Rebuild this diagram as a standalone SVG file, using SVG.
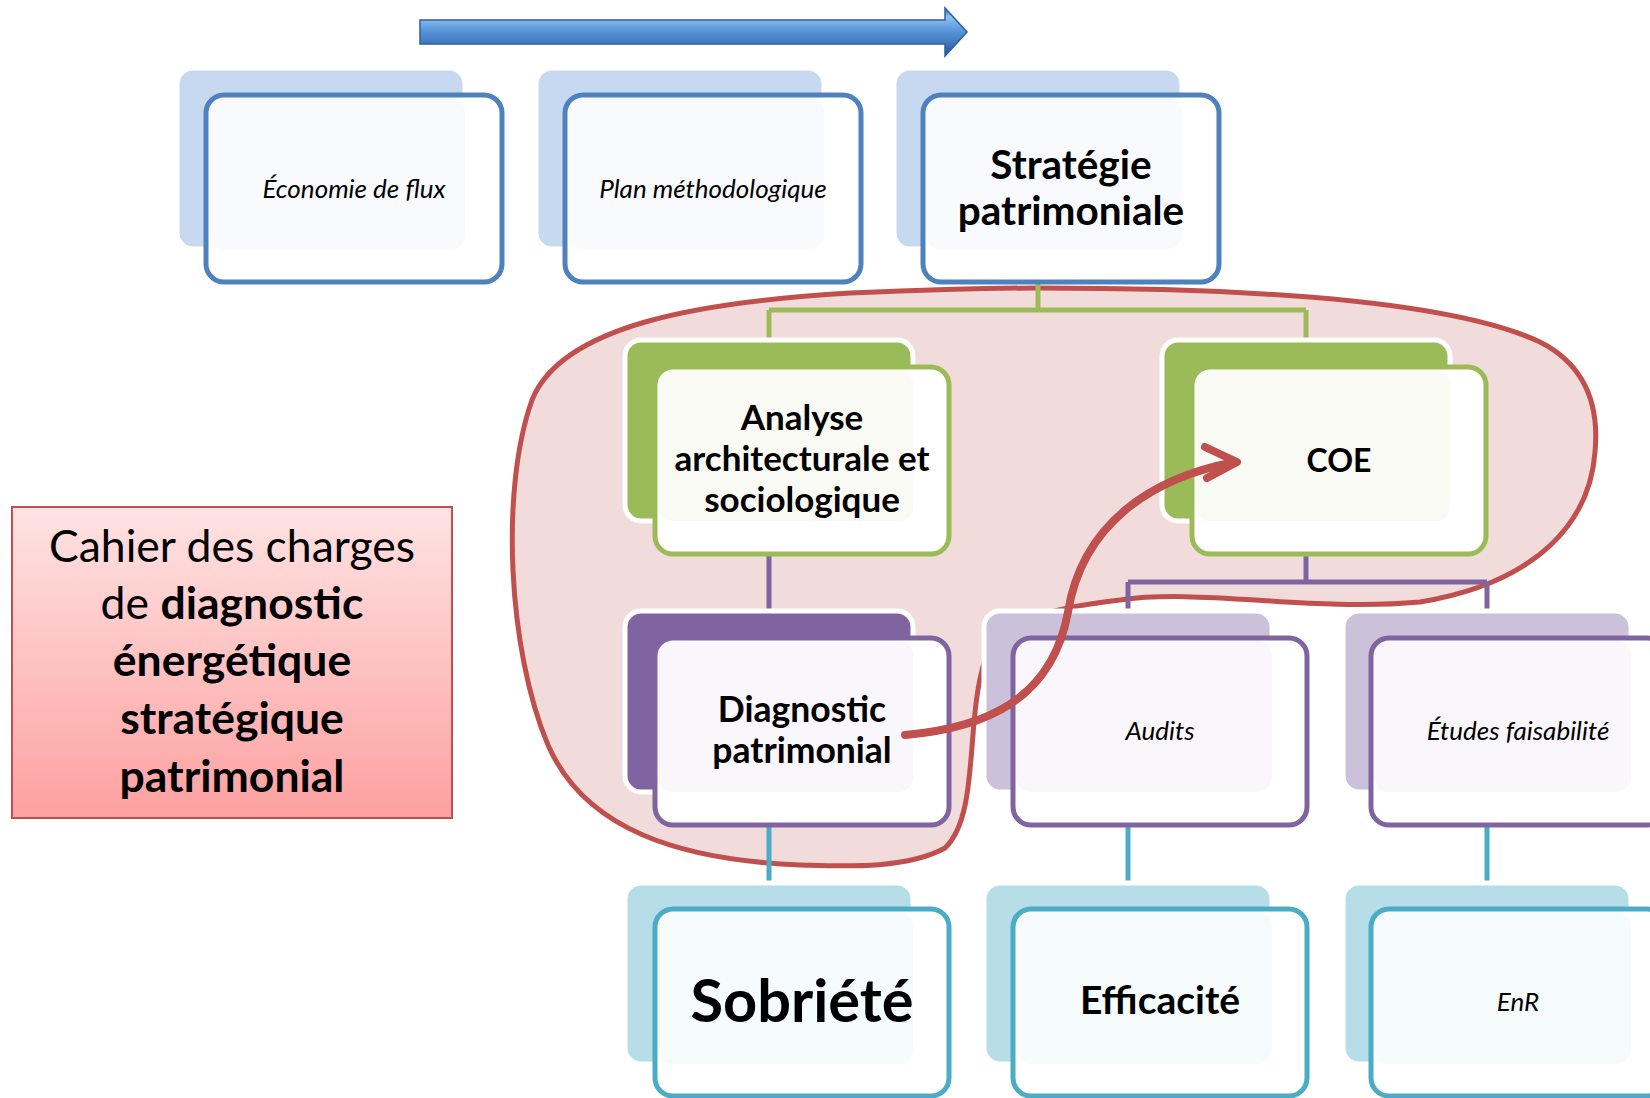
<svg xmlns="http://www.w3.org/2000/svg" width="1650" height="1098" viewBox="0 0 1650 1098">
<defs>
<linearGradient id="gArrow" x1="0" y1="0" x2="0" y2="1">
<stop offset="0" stop-color="#3569ab"/>
<stop offset="0.18" stop-color="#8ec3f2"/>
<stop offset="0.45" stop-color="#5b99dc"/>
<stop offset="0.8" stop-color="#3a70b6"/>
<stop offset="1" stop-color="#254f88"/>
</linearGradient>
<linearGradient id="gCahier" x1="0" y1="0" x2="0" y2="1">
<stop offset="0" stop-color="#ffe3e3"/>
<stop offset="1" stop-color="#fda0a0"/>
</linearGradient>
<style>
.bk{stroke:#ffffff;stroke-width:5}
.fr{fill:#ffffff;stroke-width:5}
.blue .bk{fill:#c6d9f1}.blue .fr{stroke:#4f81bd}.blue .tn{fill:#c6d9f1}
.green .bk{fill:#9bbb59}.green .fr{stroke:#9bbb59}.green .tn{fill:#c3d69b}
.purple .bk{fill:#8064a2}.purple .fr{stroke:#8064a2}.purple .tn{fill:#ccc1da}
.lpurple .bk{fill:#ccc1da}.lpurple .fr{stroke:#8064a2}.lpurple .tn{fill:#ccc1da}
.teal .bk{fill:#b7dde8}.teal .fr{stroke:#4bacc6}.teal .tn{fill:#b7dde8}
.tn{opacity:0.12}
.t{font-family:Lato,"Liberation Sans",sans-serif;fill:#000000;text-anchor:middle}
.it{font-style:italic;font-size:26px}
.b{font-weight:bold}
.cn{fill:none;stroke-width:5}
</style>
</defs>
<rect width="1650" height="1098" fill="#ffffff"/>

<g id="timeline-arrow">
<polygon points="420,20 945,20 945,8 967,32 945,56 945,44 420,44" fill="url(#gArrow)" stroke="#2f5f9c" stroke-width="1.5"/>
</g>

<g id="highlight-blob">
<path d="M1038 288 C1250 288 1450 300 1540 342 C1595 370 1598 420 1595 452 C1590 520 1540 582 1420 602 C1310 612 1200 588 1120 600 C1050 608 1000 620 985 660 C965 720 980 815 945 848 C905 870 840 866 800 865 C680 860 585 830 548 745 C508 650 500 490 532 400 C562 325 700 302 850 293 C950 289 1000 288 1038 288 Z" fill="#f2dcdb" stroke="#c0504d" stroke-width="5"/>
</g>

<g id="connectors">
<path class="cn" stroke="#9bbb59" d="M1038 282 V310 M769 310 H1306 M769 310 V342 M1306 310 V342"/>
<path class="cn" stroke="#8064a2" d="M769 555 V612 M1306 555 V582 M1128 582 H1487 M1128 582 V612 M1487 582 V612"/>
<path class="cn" stroke="#4bacc6" d="M769 825 V885 M1128 825 V885 M1487 825 V885"/>
</g>

<g id="node-economie" class="blue">
<rect class="bk" x="177" y="68" width="288" height="181" rx="16"/>
<rect class="fr" x="206" y="95" width="296" height="187" rx="18"/>
<rect class="tn" x="209" y="98" width="256" height="151" rx="14"/>
<text class="t it" x="354" y="198">Économie de flux</text>
</g>
<g id="node-plan" class="blue">
<rect class="bk" x="536" y="68" width="288" height="181" rx="16"/>
<rect class="fr" x="565" y="95" width="296" height="187" rx="18"/>
<rect class="tn" x="568" y="98" width="256" height="151" rx="14"/>
<text class="t it" x="713" y="198">Plan méthodologique</text>
</g>
<g id="node-strategie" class="blue">
<rect class="bk" x="894" y="68" width="288" height="181" rx="16"/>
<rect class="fr" x="923" y="95" width="296" height="187" rx="18"/>
<rect class="tn" x="926" y="98" width="256" height="151" rx="14"/>
<text class="t b" x="1071" y="179" font-size="40.5">Stratégie</text>
<text class="t b" x="1071" y="225" font-size="40.5">patrimoniale</text>
</g>

<g id="node-analyse" class="green">
<rect class="bk" x="625" y="340" width="288" height="181" rx="16"/>
<rect class="fr" x="655" y="367" width="294" height="187" rx="18"/>
<rect class="tn" x="658" y="370" width="255" height="151" rx="14"/>
<text class="t b" x="802" y="430" font-size="35">Analyse</text>
<text class="t b" x="802" y="471" font-size="35">architecturale et</text>
<text class="t b" x="802" y="512" font-size="35">sociologique</text>
</g>
<g id="node-coe" class="green">
<rect class="bk" x="1162" y="340" width="288" height="181" rx="16"/>
<rect class="fr" x="1192" y="367" width="294" height="187" rx="18"/>
<rect class="tn" x="1195" y="370" width="255" height="151" rx="14"/>
<text class="t b" x="1339" y="472" font-size="32">COE</text>
</g>

<g id="node-diagnostic" class="purple">
<rect class="bk" x="625" y="611" width="288" height="181" rx="16"/>
<rect class="fr" x="655" y="638" width="294" height="187" rx="18"/>
<rect class="tn" x="658" y="641" width="255" height="151" rx="14"/>
<text class="t b" x="802" y="722" font-size="35.5">Diagnostic</text>
<text class="t b" x="802" y="763" font-size="35.5">patrimonial</text>
</g>
<g id="node-audits" class="lpurple">
<rect class="bk" x="984" y="611" width="288" height="181" rx="16"/>
<rect class="fr" x="1013" y="638" width="294" height="187" rx="18"/>
<rect class="tn" x="1016" y="641" width="256" height="151" rx="14"/>
<text class="t it" x="1160" y="740">Audits</text>
</g>
<g id="node-etudes" class="lpurple">
<rect class="bk" x="1343" y="611" width="288" height="181" rx="16"/>
<rect class="fr" x="1371" y="638" width="294" height="187" rx="18"/>
<rect class="tn" x="1374" y="641" width="257" height="151" rx="14"/>
<text class="t it" x="1518" y="740">Études faisabilité</text>
</g>

<g id="node-sobriete" class="teal">
<rect class="bk" x="625" y="883" width="288" height="181" rx="16"/>
<rect class="fr" x="655" y="909" width="294" height="187" rx="18"/>
<rect class="tn" x="658" y="912" width="255" height="152" rx="14"/>
<text class="t b" x="802" y="1022" font-size="59.5">Sobriété</text>
</g>
<g id="node-efficacite" class="teal">
<rect class="bk" x="984" y="883" width="288" height="181" rx="16"/>
<rect class="fr" x="1013" y="909" width="294" height="187" rx="18"/>
<rect class="tn" x="1016" y="912" width="256" height="152" rx="14"/>
<text class="t b" x="1160" y="1014" font-size="39">Efficacité</text>
</g>
<g id="node-enr" class="teal">
<rect class="bk" x="1343" y="883" width="288" height="181" rx="16"/>
<rect class="fr" x="1371" y="909" width="294" height="187" rx="18"/>
<rect class="tn" x="1374" y="912" width="257" height="152" rx="14"/>
<text class="t it" x="1518" y="1011">EnR</text>
</g>

<g id="node-cahier">
<rect x="12" y="507" width="440" height="311" fill="url(#gCahier)" stroke="#c0504d" stroke-width="2"/>
<text class="t" x="232" y="562" font-size="44.5">Cahier des charges</text>
<text class="t" x="232" y="619" font-size="44.5">de <tspan font-weight="bold">diagnostic</tspan></text>
<text class="t b" x="232" y="676" font-size="44.5">énergétique</text>
<text class="t b" x="232" y="734" font-size="44.5">stratégique</text>
<text class="t b" x="232" y="792" font-size="44.5">patrimonial</text>
</g>

<g id="red-arrow" fill="none" stroke="#c0504d" stroke-width="8" stroke-linecap="round" stroke-linejoin="round">
<path d="M905 735 C985 728 1052 700 1068 612 C1082 525 1150 478 1235 462"/>
<polyline points="1205,447 1237,462 1207,478"/>
</g>
</svg>
